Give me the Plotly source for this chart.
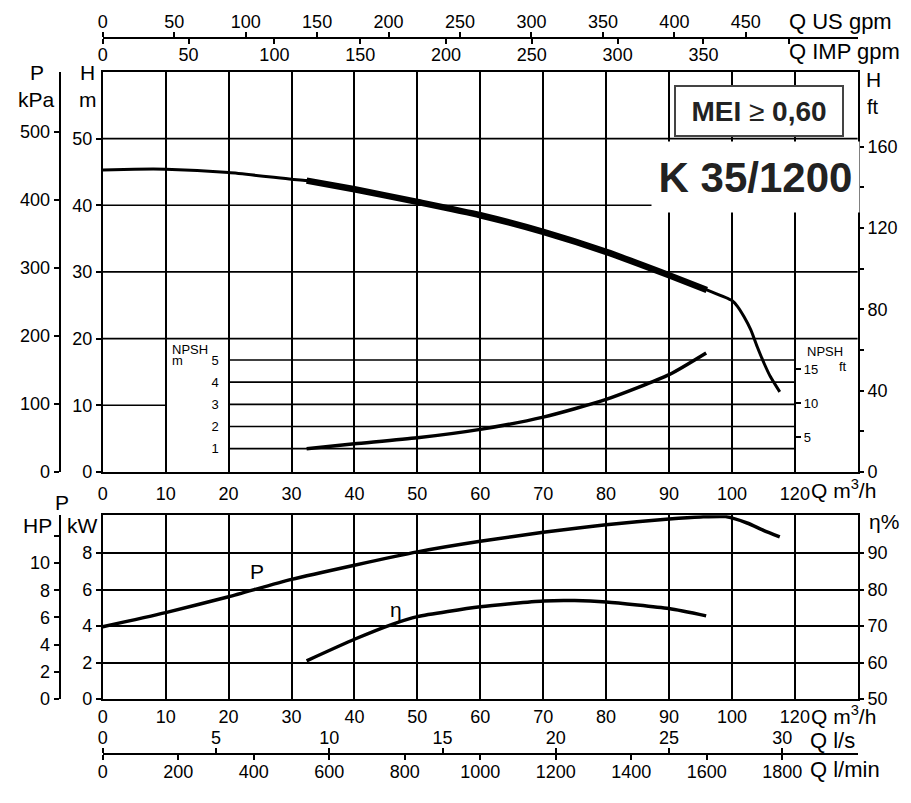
import plotly.graph_objects as go

W, H = 911, 803
H_VIEW = 794  # usable page height the chart ends up with in the browser

# pump curve K 35/1200, flow Q in m3/h
q_h = [0, 5, 10, 20, 30, 32.4, 40, 50, 60, 70, 80, 90, 96, 100, 100.9, 101.9, 103, 104, 105.1, 106.1, 107.6]
h_m = [45.3, 45.4, 45.4, 44.9, 43.9, 43.7, 42.4, 40.5, 38.5, 36.0, 33.0, 29.5, 27.3, 25.7, 24.8, 23.3, 21.3, 18.8, 16.3, 14.3, 12.0]
q_best = [32.4, 96]  # thick part of the H curve

q_npsh = [32.4, 40, 50, 60, 70, 80, 90, 95.9]
npsh_m = [1.0, 1.22, 1.49, 1.87, 2.42, 3.22, 4.34, 5.32]

q_p = [0, 10, 20, 30, 40, 50, 60, 70, 80, 90, 95, 99, 102.4, 105, 107.6]
p_kw = [3.97, 4.74, 5.61, 6.56, 7.34, 8.07, 8.65, 9.14, 9.56, 9.87, 9.98, 10.0, 9.65, 9.25, 8.89]

q_eta = [32.4, 40, 46, 50, 60, 70, 75, 80, 90, 95.9]
eta = [60.5, 66.4, 70.5, 72.6, 75.3, 76.9, 77.0, 76.6, 74.8, 72.8]

# tick labels
q_ticks = list(range(0, 111, 10))
q_text = [str(v) for v in range(0, 101, 10)] + ["120"]
h_ticks = [0, 10, 20, 30, 40, 50]
kpa_ticks = [0, 100, 200, 300, 400, 500]
ft_ticks = [0, 20, 40, 60, 80, 100, 120, 140, 160]
ft_text = ["0", "", "40", "", "80", "", "120", "", "160"]
npsh_ticks = [1, 2, 3, 4, 5]
npsh_ft_ticks = [5, 10, 15]
usgpm_ticks = list(range(0, 451, 50))
impgpm_ticks = list(range(0, 401, 50))
impgpm_text = [str(v) for v in range(0, 351, 50)] + [""]
kw_ticks = [0, 2, 4, 6, 8]
hp_ticks = [0, 2, 4, 6, 8, 10, 12]
hp_text = ["0", "2", "4", "6", "8", "10", ""]
eta_ticks = [50, 60, 70, 80, 90]
ls_ticks = [0, 5, 10, 15, 20, 25, 30]
lmin_ticks = list(range(0, 1801, 200))

# unit conversions
Q_MAX = 120
H_MAX = 60
KW_MAX = 10.07
M_PER_KPA = 0.10197
FT_PER_M = 3.2808
USGPM = 4.4029
IMPGPM = 3.6662
KW_PER_HP = 0.7457


def fx(p):
    return p / W


def fy(p):
    return 1 - p / H_VIEW


X_DOM = [fx(98.3), fx(857.5)]
TOP_DOM = [fy(472.5), fy(72)]
BOT_DOM = [fy(700), fy(516)]

FONT = "Liberation Sans, Arial, sans-serif"
tf = dict(family=FONT, size=18, color="black")

fig = go.Figure()

line = dict(color="black", width=3, shape="spline", smoothing=0.6)
fig.add_trace(go.Scatter(x=q_h, y=h_m, mode="lines", line=line, xaxis="x", yaxis="y"))
qb = [q for q in q_h if q_best[0] <= q <= q_best[1]]
hb = [h for q, h in zip(q_h, h_m) if q_best[0] <= q <= q_best[1]]
fig.add_trace(go.Scatter(x=qb, y=hb, mode="lines", line=dict(line, width=6.5), xaxis="x", yaxis="y"))
fig.add_trace(go.Scatter(x=q_npsh, y=npsh_m, mode="lines", line=dict(line, width=3.5), xaxis="x", yaxis="y4"))
fig.add_trace(go.Scatter(x=q_p, y=p_kw, mode="lines", line=dict(line, width=3.5), xaxis="x4", yaxis="y6"))
fig.add_trace(go.Scatter(x=q_eta, y=eta, mode="lines", line=dict(line, width=3.5), xaxis="x4", yaxis="y8"))

# empty traces so every secondary unit axis gets drawn
for xa, ya in [("x", "y2"), ("x", "y3"), ("x", "y5"), ("x2", "y"), ("x3", "y"),
               ("x4", "y7"), ("x5", "y6"), ("x6", "y6")]:
    fig.add_trace(go.Scatter(x=[], y=[], mode="lines", xaxis=xa, yaxis=ya, hoverinfo="skip"))

base = dict(showgrid=False, zeroline=False, tickfont=tf, linecolor="black", linewidth=2,
            tickcolor="black", tickwidth=1.5, ticklen=5, fixedrange=True)
grid = dict(showgrid=True, gridcolor="black", gridwidth=1.7)

fig.update_layout(
    autosize=True, margin=dict(l=0, r=0, t=0, b=0),
    paper_bgcolor="white", plot_bgcolor="white", showlegend=False,
    font=dict(family=FONT, color="black"),
    # top plot
    xaxis=dict(base, **grid, domain=X_DOM, anchor="y", range=[0, Q_MAX], tickvals=q_ticks,
               ticktext=q_text, ticks="", showline=True, mirror=True, ticklabelstandoff=4),
    yaxis=dict(base, domain=TOP_DOM, anchor="x", range=[0, H_MAX], tickvals=h_ticks,
               ticks="outside", showline=True, mirror=True),
    yaxis2=dict(base, overlaying="y", anchor="free", position=fx(55), side="left",
                range=[0, H_MAX / M_PER_KPA], tickvals=kpa_ticks, ticks="outside", showline=True),
    yaxis3=dict(base, overlaying="y", anchor="x", side="right", range=[0, H_MAX * FT_PER_M],
                tickvals=ft_ticks, ticktext=ft_text, ticks="outside", showline=False),
    yaxis4=dict(base, overlaying="y", anchor="free", position=fx(225), side="left",
                range=[-0.05, 18.0], tickvals=npsh_ticks, ticks="", showline=False,
                tickfont=dict(tf, size=13), ticklabelstandoff=10),
    yaxis5=dict(base, overlaying="y", anchor="free", position=fx(794.6), side="right",
                range=[-0.05 * FT_PER_M, 18.0 * FT_PER_M], tickvals=npsh_ft_ticks,
                ticks="outside", showline=False, tickfont=dict(tf, size=13)),
    xaxis2=dict(base, overlaying="x", anchor="free", position=fy(37.7), side="top",
                range=[0, Q_MAX * USGPM], tickvals=usgpm_ticks, ticks="outside", showline=True,
                ticklabelstandoff=-4),
    xaxis3=dict(base, overlaying="x", anchor="free", position=fy(37.7), side="bottom",
                range=[0, Q_MAX * IMPGPM], tickvals=impgpm_ticks, ticktext=impgpm_text,
                ticks="outside", showline=True, ticklabelstandoff=-4),
    # bottom plot
    xaxis4=dict(base, **grid, domain=X_DOM, anchor="y6", range=[0, Q_MAX], tickvals=q_ticks,
                ticktext=q_text, ticks="", showline=True, mirror=True),
    yaxis6=dict(base, **grid, domain=BOT_DOM, anchor="x4", range=[0, KW_MAX], tickvals=kw_ticks,
                ticks="outside", showline=True, mirror=True),
    yaxis7=dict(base, overlaying="y6", anchor="free", position=fx(55), side="left",
                range=[0, KW_MAX / KW_PER_HP], tickvals=hp_ticks, ticktext=hp_text,
                ticks="outside", showline=True),
    yaxis8=dict(base, overlaying="y6", anchor="x4", side="right", range=[50, 50 + 5 * KW_MAX],
                tickvals=eta_ticks, ticks="outside", showline=False),
    xaxis5=dict(base, overlaying="x4", anchor="free", position=fy(755), side="top",
                range=[0, Q_MAX / 3.6], tickvals=ls_ticks, ticks="outside", showline=True,
                ticklabelstandoff=-3),
    xaxis6=dict(base, overlaying="x4", anchor="free", position=fy(755), side="bottom",
                range=[0, Q_MAX * 1000 / 60], tickvals=lmin_ticks, ticks="outside", showline=True,
                ticklabelstandoff=-4),
)

# horizontal grid of the head chart (the 10 m line only runs to Q=10)
gl = dict(color="black", width=1.7)
for h in h_ticks[2:]:
    fig.add_shape(type="line", xref="x", yref="y", x0=0, x1=Q_MAX, y0=h, y1=h, line=gl, layer="below")
fig.add_shape(type="line", xref="x", yref="y", x0=0, x1=10, y0=10, y1=10, line=gl, layer="below")
for n in npsh_ticks:
    fig.add_shape(type="line", xref="x", yref="y4", x0=20, x1=110, y0=n, y1=n, line=gl, layer="below")


def label(text, x, y, size=20, xanchor="center", **kw):
    fig.add_annotation(text=text, x=fx(x), y=fy(y), xref="paper", yref="paper", showarrow=False,
                       xanchor=xanchor, yanchor="middle", borderpad=0,
                       font=dict(family=FONT, size=size, color="black"), **kw)


label("Q US gpm", 787, 22, size=22, xanchor="left")
label("Q IMP gpm", 787, 52, size=22, xanchor="left")
label("P", 32, 73, size=21)
label("kPa", 32, 100, size=21)
label("H", 83, 73, size=21)
label("m", 83, 100, size=21)
label("H", 873, 80, size=21)
label("ft", 873, 107, size=20)
label("NPSH", 167, 350, size=13, xanchor="left")
label("m", 167, 361, size=13, xanchor="left")
label("NPSH", 805, 352, size=13, xanchor="left")
label("ft", 838, 367, size=13, xanchor="left")
label("Q m<sup>3</sup>/h", 809, 490, size=21, xanchor="left")
label("P", 57, 503, size=21)
label("HP", 33, 526, size=21)
label("kW", 78, 526, size=21)
label("η%", 884, 522, size=21)
label("Q m<sup>3</sup>/h", 809, 716, size=21, xanchor="left")
label("Q l/s", 808, 741, size=22, xanchor="left")
label("Q l/min", 808, 770, size=22, xanchor="left")

fig.add_annotation(text="P", x=24.5, y=7.0, xref="x4", yref="y6", showarrow=False,
                   font=dict(family=FONT, size=21, color="black"))
fig.add_annotation(text="η", x=46.6, y=74.6, xref="x4", yref="y8", showarrow=False,
                   font=dict(family=FONT, size=21, color="black"))

# title boxes
fig.add_annotation(text="<b>MEI</b> ≥ <b>0,60</b>", x=fx(758), y=fy(111), xref="paper", yref="paper",
                   xanchor="center", yanchor="middle", showarrow=False, width=164, height=46,
                   bgcolor="white", bordercolor="#444", borderwidth=2,
                   font=dict(family=FONT, size=28, color="#222"))
fig.add_annotation(text="<b>K 35/1200</b>", x=fx(754.5), y=fy(177), xref="paper", yref="paper",
                   xanchor="center", yanchor="middle", showarrow=False, width=205, height=68,
                   bgcolor="white", font=dict(family=FONT, size=42, color="#222"))

fill_window = (
    "document.documentElement.style.height='100%';"
    "document.body.style.height='100%';"
    "document.body.style.margin='0';"
    "document.body.style.overflow='hidden';"
    "var gd=document.getElementById('{plot_id}');"
    "gd.parentElement.style.height='100%';"
    "Plotly.Plots.resize(gd);"
)
fig.write_html("out.html", config={"displayModeBar": False},
               default_width="100%", default_height="100%", post_script=fill_window)
